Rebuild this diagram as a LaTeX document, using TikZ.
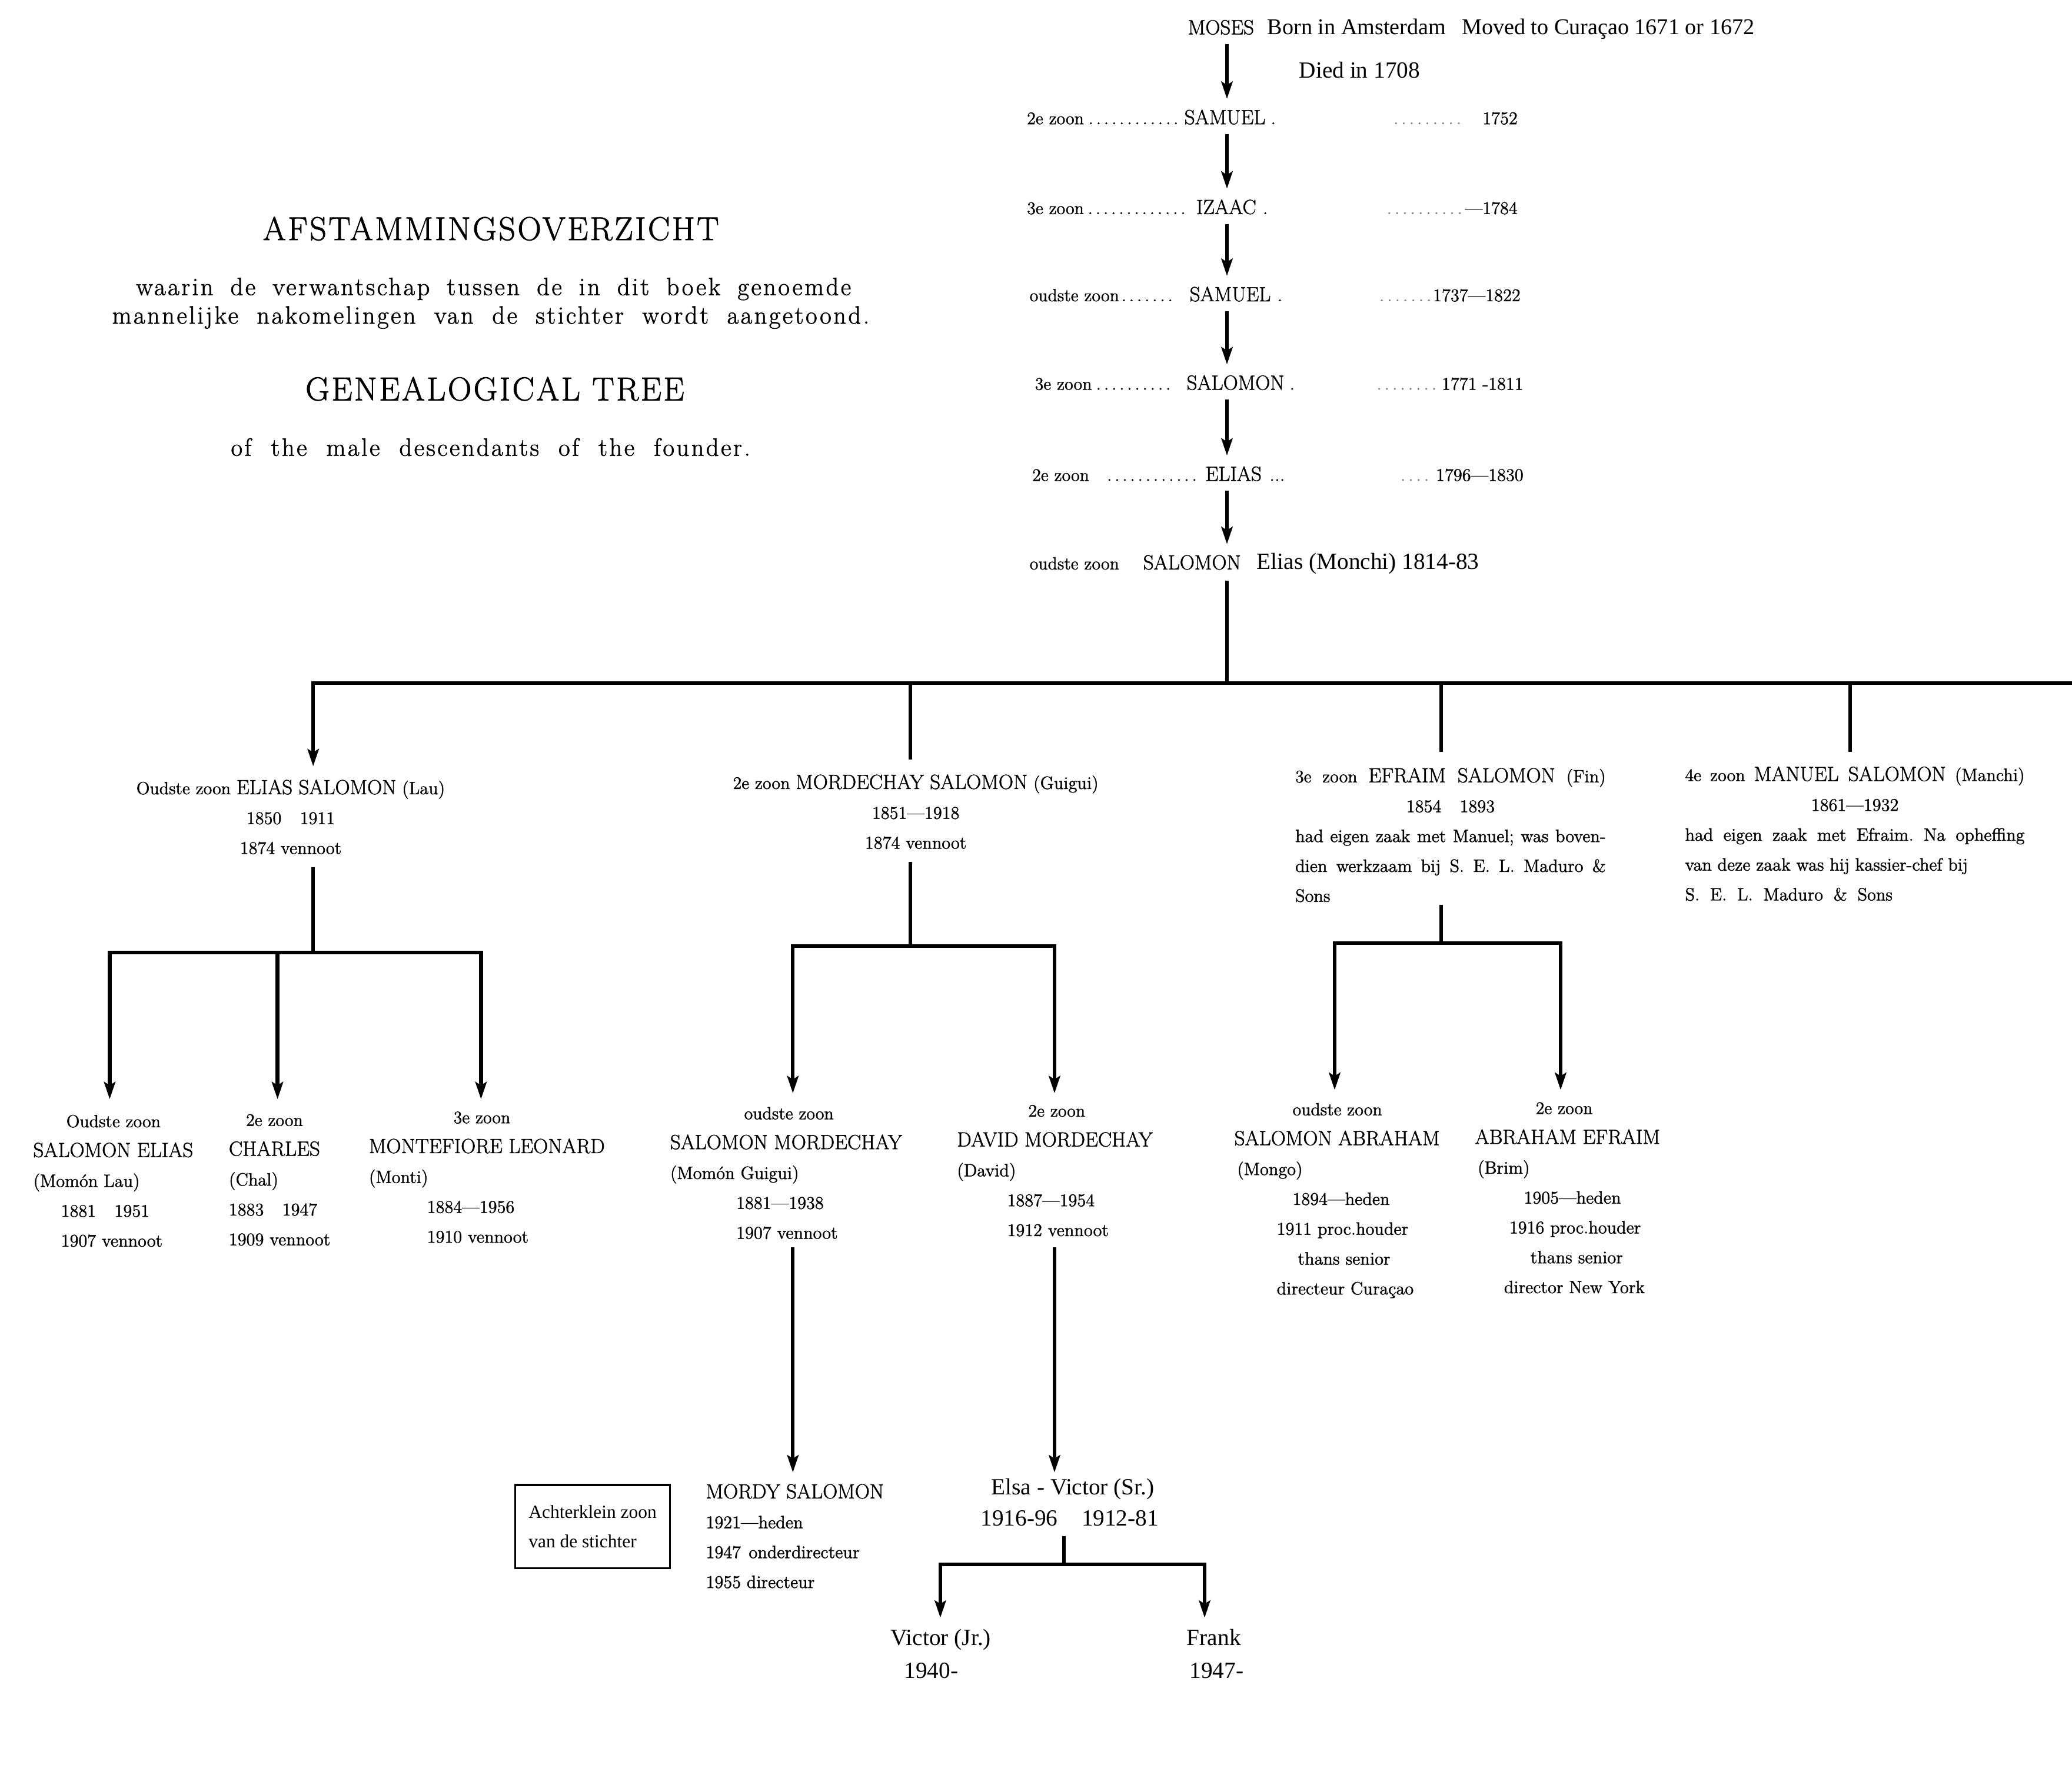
\documentclass[tikz,border=0pt]{standalone}
\usepackage{fontspec}
\setmainfont{Latin Modern Roman}[FakeBold=1.5]
\newfontfamily\tnrfam{Liberation Serif}
\usetikzlibrary{arrows.meta}
\newcommand\NmF{\fontsize{15.5}{22.6}\selectfont}
\newcommand\ZnF{\fontsize{13.3}{22.6}\selectfont}
\newcommand\BdF{\fontsize{13.5}{22.6}\selectfont}
\newcommand\TnF{\tnrfam\fontsize{17.5}{23.6}\selectfont}
\newcommand\TnV{\tnrfam\fontsize{17.5}{25}\selectfont}
\newcommand\TnS{\tnrfam\fontsize{14}{22}\selectfont}
\newcommand\TtF{\fontsize{25}{30}\selectfont\addfontfeature{LetterSpace=6}}
\newcommand\SubF{\fontsize{19}{22}\selectfont\addfontfeature{LetterSpace=8}}
\newcommand\fstr{\rule{0pt}{10pt}}
\newcommand\lstr{\rule[-2pt]{0pt}{2pt}}
\newcommand\tstr{\rule{0pt}{12pt}}
\tikzset{
  arr/.style={line width=2.8pt, -{Stealth[length=13pt,width=8.5pt,inset=2.5pt]}},
  conn/.style={line width=2.8pt},
  blk/.style={inner sep=0pt, align=left, anchor=north west, font=\BdF},
  cblk/.style={inner sep=0pt, align=center, anchor=north, font=\BdF},
  tblk/.style={inner sep=0pt, align=left, anchor=north west, font=\TnV},
  cname/.style={inner sep=0pt, anchor=base, font=\NmF},
  lab/.style={inner sep=0pt, font=\ZnF},
  dat/.style={inner sep=0pt, anchor=base east, font=\BdF},
  ttl/.style={inner sep=0pt, anchor=base},
}
\begin{document}
\frenchspacing
\begin{tikzpicture}[x=1pt,y=-1pt]
\fill[white] (0,0) rectangle (1568,1335.6);
\useasboundingbox (0,0) rectangle (1568,1335.6);

% ---------- titles
\node[ttl, font=\TtF] (t1) at (371.5,181.7) {AFSTAMMINGSOVERZICHT};
\node[ttl, font=\SubF] (t2) at (373.5,223.4) {\makebox[541pt][s]{waarin de verwantschap tussen de in dit boek genoemde}};
\node[ttl, font=\SubF] (t3) at (371.4,245) {\makebox[573pt][s]{mannelijke nakomelingen van de stichter wordt aangetoond.}};
\node[ttl, font=\TtF] (t4) at (374.5,303) {GENEALOGICAL TREE};
\node[ttl, font=\SubF] (t5) at (371.3,345) {\makebox[393pt][s]{of the male descendants of the founder.}};

% ---------- ancestor chain
\coordinate (cx) at (928.5,0);
\node[cname] (moses) at (924,26) {MOSES};
\node[inner sep=0pt, anchor=base west, font=\tnrfam\fontsize{17}{20}\selectfont] (born) at (959,26) {Born in Amsterdam\hspace{12pt}Moved to Curaçao 1671 or 1672};
\node[inner sep=0pt, anchor=base west, font=\tnrfam\fontsize{17.5}{20}\selectfont] (died) at (983,59) {Died in 1708};

\node[lab, anchor=base west] (l1) at (777,94) {\hbox to 118pt{2e zoon\dotfill}};
\node[cname] (samuel1) at (927,94) {SAMUEL\rlap{\hspace{4pt}.}};
\node[dat] (d1) at (1148.6,94) {\hbox to 96pt{{\color{gray}\dotfill}\hspace{14pt}1752}};

\node[lab, anchor=base west] (l2) at (777,162) {\hbox to 123pt{3e zoon\dotfill}};
\node[cname] (izaac) at (928,162) {IZAAC\rlap{\hspace{5pt}.}};
\node[dat] (d2) at (1148.6,162) {\hbox to 101pt{{\color{gray}\dotfill}—1784}};

\node[lab, anchor=base west] (l3) at (779,228) {\hbox to 110pt{oudste zoon\dotfill}};
\node[cname] (samuel2) at (931,228) {SAMUEL\rlap{\hspace{5pt}.}};
\node[dat] (d3) at (1150.8,228) {\hbox to 108pt{{\color{gray}\dotfill}1737—1822}};

\node[lab, anchor=base west] (l4) at (783,295) {\hbox to 106pt{3e zoon\dotfill}};
\node[cname] (salomon1) at (935,295) {SALOMON\rlap{\hspace{4pt}.}};
\node[dat] (d4) at (1153,295) {\hbox to 115pt{{\color{gray}\dotfill}1771 -1811}};

\node[lab, anchor=base west] (l5) at (781,364) {\hbox to 128pt{2e zoon\hspace{10pt}\dotfill}};
\node[cname] (elias) at (933.5,364) {ELIAS\rlap{\hspace{6pt}...}};
\node[dat] (d5) at (1153,364) {\hbox to 96pt{{\color{gray}\dotfill}\,1796—1830}};

\node[lab, anchor=base west] (l6) at (779,431) {oudste zoon};
\node[cname, anchor=base west] (salomon2) at (865,431) {SALOMON};
\node[inner sep=0pt, anchor=base west, font=\tnrfam\fontsize{17.5}{20}\selectfont] (monchi) at (951,431) {Elias (Monchi) 1814-83};

\begin{scope}[shorten <=7pt, shorten >=8pt]
\draw[arr] (moses.south -| cx) -- (samuel1.north -| cx);
\draw[arr] (samuel1.south -| cx) -- (izaac.north -| cx);
\draw[arr] (izaac.south -| cx) -- (samuel2.north -| cx);
\draw[arr] (samuel2.south -| cx) -- (salomon1.north -| cx);
\draw[arr] (salomon1.south -| cx) -- (elias.north -| cx);
\draw[arr] (elias.south -| cx) -- (salomon2.north -| cx);
\end{scope}

% ---------- generation 2
\node[cblk] (eliasS) at (220,590) {\fstr{\ZnF Oudste zoon} {\NmF ELIAS SALOMON} (Lau)\\ 1850\hspace{14pt}1911\\ 1874 vennoot\lstr};
\node[cblk] (mord) at (693,586) {\fstr{\ZnF 2e zoon} {\NmF MORDECHAY SALOMON} (Guigui)\\ 1851—1918\\ 1874 vennoot\lstr};
\node[blk] (efraim) at (980,581) {\makebox[235pt][s]{\fstr{\ZnF 3e zoon} {\NmF EFRAIM SALOMON} (Fin)}\\
  \makebox[235pt]{1854\hspace{14pt}1893}\\
  \makebox[235pt][s]{had eigen zaak met Manuel; was boven-}\\
  \makebox[235pt][s]{dien werkzaam bij S. E. L. Maduro \&}\\
  Sons\lstr};
\node[blk] (manuel) at (1275,580) {\makebox[257pt][s]{\fstr{\ZnF 4e zoon} {\NmF MANUEL SALOMON} (Manchi)}\\
  \makebox[257pt]{1861—1932}\\
  \makebox[257pt][s]{had eigen zaak met Efraim. Na opheffing}\\
  \makebox[214pt][s]{van deze zaak was hij kassier-chef bij}\\
  \makebox[157pt][s]{S. E. L. Maduro \& Sons\lstr}};

\coordinate (bL) at (237,517);
\coordinate (bR) at (1568,517);
\coordinate (bB) at (689,517);
\coordinate (bC) at (1090.6,517);
\coordinate (bD) at (1400,517);
\draw[conn, shorten <=8pt] (salomon2.south -| cx) -- (cx |- bL);
\draw[arr, shorten >=10pt] (bR) -- (bL) -- (bL |- eliasS.north);
\draw[conn, shorten >=11pt] (bB) -- (bB |- mord.north);
\draw[conn, shorten >=12pt] (bC) -- (bC |- efraim.north);
\draw[conn, shorten >=11pt] (bD) -- (bD |- manuel.north);

% ---------- generation 3
\node[blk] (se) at (25,843) {\fstr\hspace*{25pt}{\ZnF Oudste zoon}\\ {\NmF SALOMON ELIAS}\\ (Momón Lau)\\ \hspace*{21pt}1881\hspace{14pt}1951\\ \hspace*{21pt}1907 vennoot\lstr};
\node[blk] (ch) at (173,842) {\fstr\hspace*{13pt}{\ZnF 2e zoon}\\ {\NmF CHARLES}\\ (Chal)\\ 1883\hspace{14pt}1947\\ 1909 vennoot\lstr};
\node[blk] (mo) at (279,840) {\fstr\hspace*{64pt}{\ZnF 3e zoon}\\ {\NmF MONTEFIORE LEONARD}\\ (Monti)\\ \hspace*{44pt}1884—1956\\ \hspace*{44pt}1910 vennoot\lstr};
\node[blk] (sm) at (507,837) {\fstr\hspace*{56pt}{\ZnF oudste zoon}\\ {\NmF SALOMON MORDECHAY}\\ (Momón Guigui)\\ \hspace*{50pt}1881—1938\\ \hspace*{50pt}1907 vennoot\lstr};
\node[blk] (dm) at (724,835) {\fstr\hspace*{54pt}{\ZnF 2e zoon}\\ {\NmF DAVID MORDECHAY}\\ (David)\\ \hspace*{38pt}1887—1954\\ \hspace*{38pt}1912 vennoot\lstr};
\node[blk] (sa) at (934,834) {\fstr\hspace*{44pt}{\ZnF oudste zoon}\\ {\NmF SALOMON ABRAHAM}\\ \hspace*{2pt}(Mongo)\\ \hspace*{44pt}1894—heden\\ \hspace*{32pt}1911 proc.houder\\ \hspace*{48pt}thans senior\\ \hspace*{32pt}directeur Curaçao\lstr};
\node[blk] (ae) at (1116,833) {\fstr\hspace*{46pt}{\ZnF 2e zoon}\\ {\NmF ABRAHAM EFRAIM}\\ \hspace*{2pt}(Brim)\\ \hspace*{37pt}1905—heden\\ \hspace*{26pt}1916 proc.houder\\ \hspace*{42pt}thans senior\\ \hspace*{22pt}director New York\lstr};

\coordinate (e2) at (237,721);
\coordinate (eA) at (83,721);
\coordinate (eB) at (210,721);
\coordinate (eC) at (364,721);
\draw[conn, shorten <=8pt] (eliasS.south -| e2) -- (e2);
\draw[arr, shorten >=11pt] (e2) -| (se.north -| eA);
\draw[arr, shorten >=8pt] (e2) -| (mo.north -| eC);
\draw[arr, shorten >=10pt] (eB) -- (ch.north -| eB);

\coordinate (m2) at (689,716);
\coordinate (mA) at (600,716);
\coordinate (mB) at (798,716);
\draw[conn, shorten <=8pt] (mord.south -| m2) -- (m2);
\draw[arr, shorten >=9.5pt] (m2) -| (sm.north -| mA);
\draw[arr, shorten >=7.5pt] (m2) -| (dm.north -| mB);

\coordinate (f2) at (1090.6,714);
\coordinate (fA) at (1010,714);
\coordinate (fB) at (1181,714);
\draw[conn] (efraim.south -| f2) -- (f2);
\draw[arr, shorten >=9pt] (f2) -| (sa.north -| fA);
\draw[arr, shorten >=8pt] (f2) -| (ae.north -| fB);

% ---------- generation 4 and 5
\node[blk] (mordy) at (534,1123) {\fstr{\NmF MORDY SALOMON}\\ 1921—heden\\ 1947\hspace{6pt}onderdirecteur\\ 1955 directeur};
\node[tblk, font=\TnF] (elsa) at (742,1119) {\tstr\hspace*{8pt}Elsa - Victor (Sr.)\\ 1916-96\hspace{18pt}1912-81\lstr};
\node[tblk] (vj) at (674,1233) {\tstr Victor (Jr.)\\ \hspace*{10pt}1940-};
\node[tblk] (fr) at (898,1233) {\tstr Frank\\ \hspace*{2pt}1947-};
\node[draw, line width=1.5pt, minimum width=117pt, minimum height=63pt, inner xsep=8pt, align=left, font=\TnS] (ach) at (448.5,1155.5) {Achterklein zoon\\ van de stichter};

\draw[arr, shorten <=4.5pt, shorten >=8.5pt] (sm.south -| mA) -- (mordy.north -| mA);
\draw[arr, shorten <=6.5pt, shorten >=4.5pt] (dm.south -| mB) -- (elsa.north -| mB);

\coordinate (v2) at (805,1184);
\coordinate (vA) at (711.6,1184);
\coordinate (vB) at (911.6,1184);
\draw[conn, shorten <=5.5pt] (elsa.south -| v2) -- (v2);
\draw[arr, shorten >=8.5pt] (v2) -| (vj.north -| vA);
\draw[arr, shorten >=8.5pt] (v2) -| (fr.north -| vB);
\end{tikzpicture}
\end{document}
